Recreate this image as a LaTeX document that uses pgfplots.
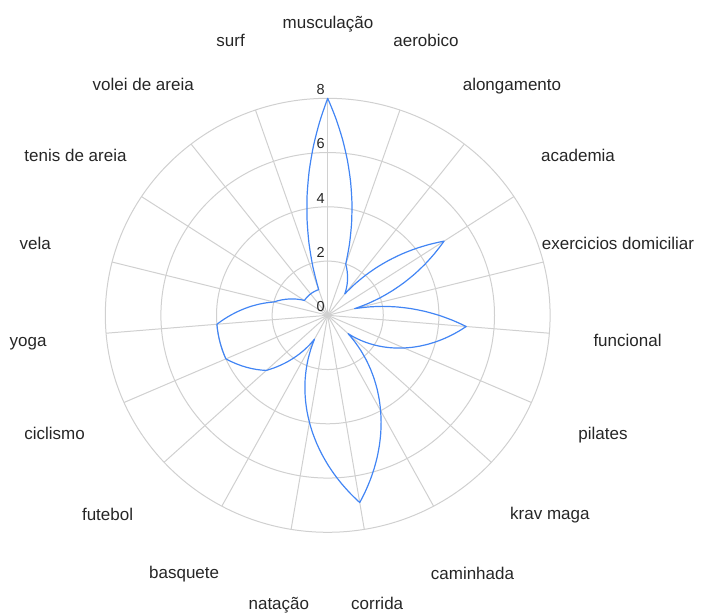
\documentclass[border=0pt]{standalone}
\usepackage{fontspec}
\setmainfont{Liberation Sans}
\usepackage{pgfplots}
\pgfplotsset{compat=1.18}
\usepgfmodule{nonlineartransformations}
\definecolor{gridc}{RGB}{208,208,208}
\definecolor{linec}{RGB}{66,133,244}
\definecolor{txt}{RGB}{38,38,38}
% polar mapping of the radar line: canvas x (pt) = angle in degrees, canvas y (pt) = value
\makeatletter
\def\radartrafo{%
  \pgfmathsetmacro\rdA{\the\pgf@x}%
  \pgfmathsetmacro\rdR{\the\pgf@y}%
  \pgfmathsetlength\pgf@x{\rdR*sin(\rdA)*27.9015}%
  \pgfmathsetlength\pgf@y{\rdR*cos(\rdA)*27.2238}%
}
\makeatother
\begin{document}
\begin{tikzpicture}[
  lab/.style={font=\fontsize{17bp}{20bp}\selectfont, text=txt, inner sep=0pt},
  tick/.style={font=\fontsize{14.5bp}{17bp}\selectfont, text=txt, inner sep=0pt, anchor=center},
]
\begin{axis}[
  at={(0,0)}, anchor=origin,
  x=27.8bp, y=27.125bp,
  xmin=-11.788, xmax=13.464, ymin=-10.975, ymax=11.624,
  hide axis, clip=false,
]
\coordinate (bl) at (rel axis cs:0,0);
\coordinate (tr) at (rel axis cs:1,1);
% grid rings
\draw[gridc, line width=1bp] (axis cs:0,0) ellipse [x radius=55.6bp, y radius=54.25bp];
\draw[gridc, line width=1bp] (axis cs:0,0) ellipse [x radius=111.2bp, y radius=108.5bp];
\draw[gridc, line width=1bp] (axis cs:0,0) ellipse [x radius=166.8bp, y radius=162.75bp];
\draw[gridc, line width=1bp] (axis cs:0,0) ellipse [x radius=222.4bp, y radius=217bp];
% spokes
\pgfplotsinvokeforeach{0,...,18}{
  \draw[gridc, line width=1bp] (axis cs:0,0) -- (axis cs:{8*sin(#1*360/19)},{8*cos(#1*360/19)});
}
\end{axis}
% the data line: (category index, value), mapped to the radar by the polar transformation
\begin{axis}[
  at={(0,0)}, anchor=origin, disabledatascaling,
  x=1pt, y=1pt, xmin=0, xmax=420, ymin=0, ymax=8,
  hide axis, clip=false,
]
\addplot[linec, line width=1.2bp, mark=none, line join=round, line cap=round,
  /utils/exec={\pgfsettransformnonlinearflatness{1pt}\pgftransformnonlinear{\radartrafo}}]
  table[x expr=\thisrow{i}*360/19, y=v, row sep=\\] {
  i v \\
  2 1 \\
  3 5 \\
  4 1 \\
  5 5 \\
  6 3 \\
  7 1 \\
  8 4 \\
  9 7 \\
  10 4 \\
  11 1 \\
  12 3 \\
  13 4 \\
  14 4 \\
  15 2 \\
  16 1 \\
  17 1 \\
  18 1 \\
  19 8 \\
  20 2 \\
  21 1 \\
};
\end{axis}
\begin{axis}[
  at={(0,0)}, anchor=origin,
  x=27.8bp, y=27.125bp,
  xmin=-11.788, xmax=13.464, ymin=-10.975, ymax=11.624,
  hide axis, clip=false,
]
% radial tick labels
\node[tick] at (axis cs:-0.252,0.324) {0};
\node[tick] at (axis cs:-0.252,2.324) {2};
\node[tick] at (axis cs:-0.252,4.324) {4};
\node[tick] at (axis cs:-0.252,6.324) {6};
\node[tick] at (axis cs:-0.252,8.324) {8};
% category labels
\node[lab, anchor=base] at (axis cs:0.011,10.555) {musculação};
\node[lab, anchor=base west] at (axis cs:2.356,9.928) {aerobico};
\node[lab, anchor=base west] at (axis cs:4.853,8.280) {alongamento};
\node[lab, anchor=base west] at (axis cs:7.673,5.652) {academia};
\node[lab, anchor=base west] at (axis cs:7.698,2.433) {exercicios domiciliar};
\node[lab, anchor=base west] at (axis cs:9.554,-1.132) {funcional};
\node[lab, anchor=base west] at (axis cs:9.014,-4.571) {pilates};
\node[lab, anchor=base west] at (axis cs:6.558,-7.521) {krav maga};
\node[lab, anchor=base west] at (axis cs:3.705,-9.722) {caminhada};
\node[lab, anchor=base west] at (axis cs:0.838,-10.839) {corrida};
\node[lab, anchor=base east] at (axis cs:-0.662,-10.839) {natação};
\node[lab, anchor=base east] at (axis cs:-3.899,-9.696) {basquete};
\node[lab, anchor=base east] at (axis cs:-6.993,-7.547) {futebol};
\node[lab, anchor=base east] at (axis cs:-8.730,-4.571) {ciclismo};
\node[lab, anchor=base east] at (axis cs:-10.108,-1.158) {yoga};
\node[lab, anchor=base east] at (axis cs:-9.953,2.433) {vela};
\node[lab, anchor=base east] at (axis cs:-7.230,5.663) {tenis de areia};
\node[lab, anchor=base east] at (axis cs:-4.809,8.280) {volei de areia};
\node[lab, anchor=base east] at (axis cs:-2.975,9.928) {surf};
\end{axis}
\pgfresetboundingbox
\path[use as bounding box] (bl) rectangle (tr);
\end{tikzpicture}
\end{document}
